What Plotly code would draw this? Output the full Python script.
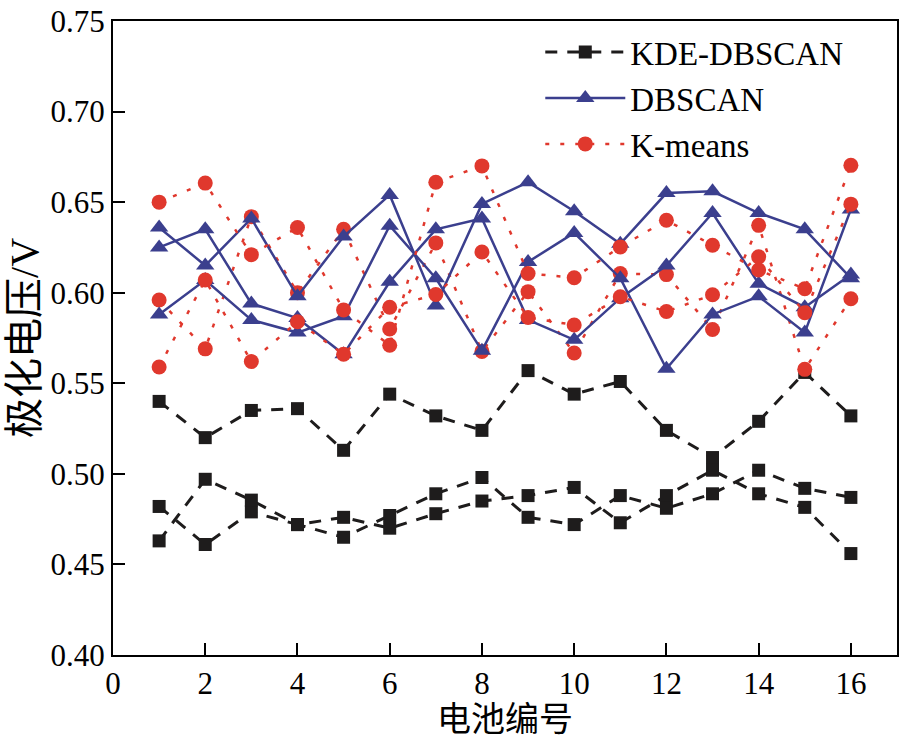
import plotly.graph_objects as go

# Battery index
battery = list(range(1, 17))

# KDE-DBSCAN (three groups)
kde_1 = [0.540, 0.520, 0.535, 0.536, 0.513, 0.544, 0.532, 0.524, 0.557, 0.544, 0.551, 0.524, 0.509, 0.529, 0.556, 0.532]
kde_2 = [0.482, 0.461, 0.479, 0.472, 0.476, 0.470, 0.478, 0.485, 0.488, 0.4925, 0.473, 0.488, 0.502, 0.489, 0.4815, 0.456]
kde_3 = [0.463, 0.497, 0.4855, 0.472, 0.465, 0.477, 0.489, 0.498, 0.476, 0.472, 0.488, 0.481, 0.489, 0.502, 0.492, 0.487]

# DBSCAN (three groups)
dbscan_1 = [0.636, 0.615, 0.641, 0.598, 0.631, 0.654, 0.593, 0.649, 0.661, 0.645, 0.627, 0.655, 0.656, 0.644, 0.635, 0.608]
dbscan_2 = [0.625, 0.635, 0.594, 0.586, 0.566, 0.606, 0.635, 0.641, 0.585, 0.574, 0.597, 0.615, 0.644, 0.605, 0.592, 0.610]
dbscan_3 = [0.588, 0.607, 0.585, 0.578, 0.587, 0.637, 0.608, 0.568, 0.617, 0.633, 0.608, 0.558, 0.588, 0.598, 0.578, 0.646]

# K-means (three groups)
kmeans_1 = [0.650, 0.6605, 0.621, 0.636, 0.5905, 0.571, 0.661, 0.670, 0.6106, 0.6083, 0.6253, 0.640, 0.6262, 0.6125, 0.6022, 0.6703]
kmeans_2 = [0.596, 0.569, 0.642, 0.600, 0.635, 0.580, 0.6275, 0.5676, 0.6006, 0.5667, 0.6106, 0.610, 0.5797, 0.6372, 0.5577, 0.5967]
kmeans_3 = [0.559, 0.607, 0.562, 0.584, 0.566, 0.592, 0.599, 0.6225, 0.5863, 0.5822, 0.5978, 0.5896, 0.5989, 0.6198, 0.589, 0.6489]

x_ticks = [0, 2, 4, 6, 8, 10, 12, 14, 16]
y_ticks = [0.40, 0.45, 0.50, 0.55, 0.60, 0.65, 0.70, 0.75]

BLACK = "#1e1c1c"
BLUE = "#3b3f8e"
RED = "#e0382d"
FONT = "Liberation Serif, Times New Roman, Noto Sans CJK SC, serif"

fig = go.Figure()

def kde_trace(y, show):
    return go.Scatter(x=battery, y=y, mode="lines+markers", name="KDE-DBSCAN",
                      legendgroup="kde", showlegend=show, legendrank=1,
                      line=dict(color=BLACK, width=3, dash="12px,10px"),
                      marker=dict(symbol="square", size=13, color=BLACK))

def db_trace(y, show):
    return go.Scatter(x=battery, y=y, mode="lines+markers", name="DBSCAN",
                      legendgroup="db", showlegend=show, legendrank=2,
                      line=dict(color=BLUE, width=2.5),
                      marker=dict(symbol="triangle-up", size=16, color=BLUE))

def km_trace(y, show):
    return go.Scatter(x=battery, y=y, mode="lines+markers", name="K-means",
                      legendgroup="km", showlegend=show, legendrank=3,
                      line=dict(color=RED, width=2.5, dash="4px,11px"),
                      marker=dict(symbol="circle", size=15, color=RED))

fig.add_trace(kde_trace(kde_1, True))
fig.add_trace(kde_trace(kde_2, False))
fig.add_trace(kde_trace(kde_3, False))
fig.add_trace(km_trace(kmeans_2, False))
fig.add_trace(db_trace(dbscan_1, True))
fig.add_trace(db_trace(dbscan_2, False))
fig.add_trace(db_trace(dbscan_3, False))
fig.add_trace(km_trace(kmeans_1, True))
fig.add_trace(km_trace(kmeans_3, False))

axis_common = dict(
    showgrid=False, zeroline=False, showline=True, linecolor="black", linewidth=2,
    mirror=True, ticks="inside", ticklen=12, tickwidth=2, tickcolor="black",
    tickfont=dict(family=FONT, size=31, color="black"),
)

fig.update_layout(
    width=903, height=738,
    margin=dict(l=113, r=4, t=18, b=83),
    paper_bgcolor="white", plot_bgcolor="white",
    font=dict(family=FONT, color="black"),
    xaxis=dict(range=[0, 17], tickvals=x_ticks, ticktext=[str(v) for v in x_ticks],
               title=dict(text="电池编号", font=dict(family=FONT, size=34), standoff=4),
               **axis_common),
    yaxis=dict(range=[0.40, 0.75], tickvals=y_ticks, ticktext=[f"{v:.2f}" for v in y_ticks],
               title=dict(text="极化电压/V", font=dict(family=FONT, size=40), standoff=0),
               **axis_common),
    legend=dict(x=0.545, y=0.995, xanchor="left", yanchor="top",
                bgcolor="rgba(0,0,0,0)", borderwidth=0,
                font=dict(family=FONT, size=33, color="black"),
                itemwidth=80, tracegroupgap=0),
)

fig.write_html("out.html")
